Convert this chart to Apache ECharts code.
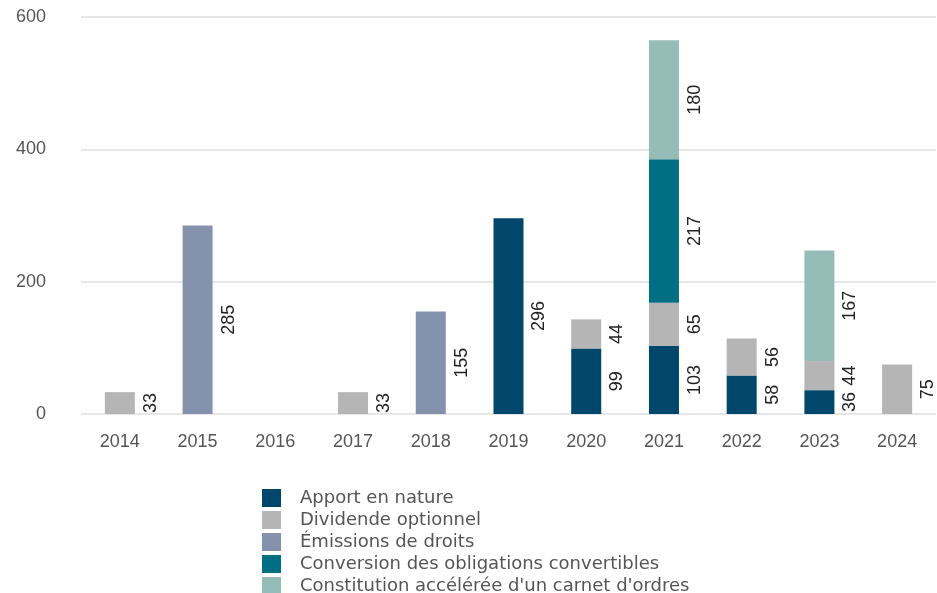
<!DOCTYPE html>
<html>
<head>
<meta charset="utf-8">
<style>
  html, body { margin: 0; padding: 0; background: #ffffff; }
  #chart { width: 937px; height: 593px; }
</style>
<script src="https://cdn.jsdelivr.net/npm/echarts@6/dist/echarts.min.js"></script>
</head>
<body>
<div id="chart"></div>
<script>
// Years on the x axis
const years = ['2014', '2015', '2016', '2017', '2018', '2019', '2020', '2021', '2022', '2023', '2024'];

// Stacked components (millions), bottom to top
const apportEnNature      = [null, null, null, null, null, 296, 99, 103, 58, 36, null];
const dividendeOptionnel  = [33, null, null, 33, null, null, 44, 65, 56, 44, 75];
const emissionsDeDroits   = [null, 285, null, null, 155, null, null, null, null, null, null];
const conversionOblig     = [null, null, null, null, null, null, null, 217, null, null, null];
const constitutionCarnet  = [null, null, null, null, null, null, null, 180, null, 167, null];

const seriesNames = [
  'Apport en nature',
  'Dividende optionnel',
  'Émissions de droits',
  'Conversion des obligations convertibles',
  "Constitution accélérée d'un carnet d'ordres"
];
const seriesData = [apportEnNature, dividendeOptionnel, emissionsDeDroits, conversionOblig, constitutionCarnet];
const colors = ['#00476b', '#b5b5b5', '#8592ad', '#006f83', '#96bcb7'];

const NUM_FONT = '"Liberation Sans", Arial, sans-serif';
const TEXT_FONT = '"DejaVu Sans", sans-serif';

const chart = echarts.init(document.getElementById('chart'), null, { renderer: 'canvas' });

chart.setOption({
  animation: false,
  color: colors,
  grid: { left: 81, right: 1, top: 17, bottom: 179, containLabel: false },
  legend: {
    orient: 'vertical',
    left: 262,
    top: 489,
    height: 140,
    padding: 0,
    itemWidth: 19,
    itemHeight: 18,
    itemGap: 4,
    icon: 'rect',
    data: seriesNames,
    textStyle: {
      fontFamily: TEXT_FONT, fontSize: 18, lineHeight: 18,
      color: '#555555', padding: [0, 0, 0, 14]
    }
  },
  xAxis: {
    type: 'category',
    data: years,
    axisLine: { show: false },
    axisTick: { show: false },
    axisLabel: { color: '#555555', fontSize: 18, fontFamily: NUM_FONT, margin: 19 }
  },
  yAxis: {
    type: 'value',
    min: 0,
    max: 600,
    interval: 200,
    axisLine: { show: false },
    axisTick: { show: false },
    axisLabel: { color: '#555555', fontSize: 18, fontFamily: NUM_FONT, margin: 35 },
    splitLine: { lineStyle: { color: '#e6e6e6', width: 2 } }
  },
  series: seriesNames.map((name, i) => ({
    name: name,
    type: 'bar',
    stack: 'total',
    barWidth: 30,
    data: seriesData[i],
    itemStyle: { color: colors[i] },
    labelLayout: { moveOverlap: 'shiftY' },
    label: {
      show: true,
      position: 'right',
      distance: 7,
      rotate: 90,
      align: 'center',
      verticalAlign: 'top',
      color: '#222222',
      fontSize: 18,
      fontFamily: NUM_FONT,
      formatter: p => (p.value == null ? '' : String(p.value))
    }
  }))
});
</script>
</body>
</html>
